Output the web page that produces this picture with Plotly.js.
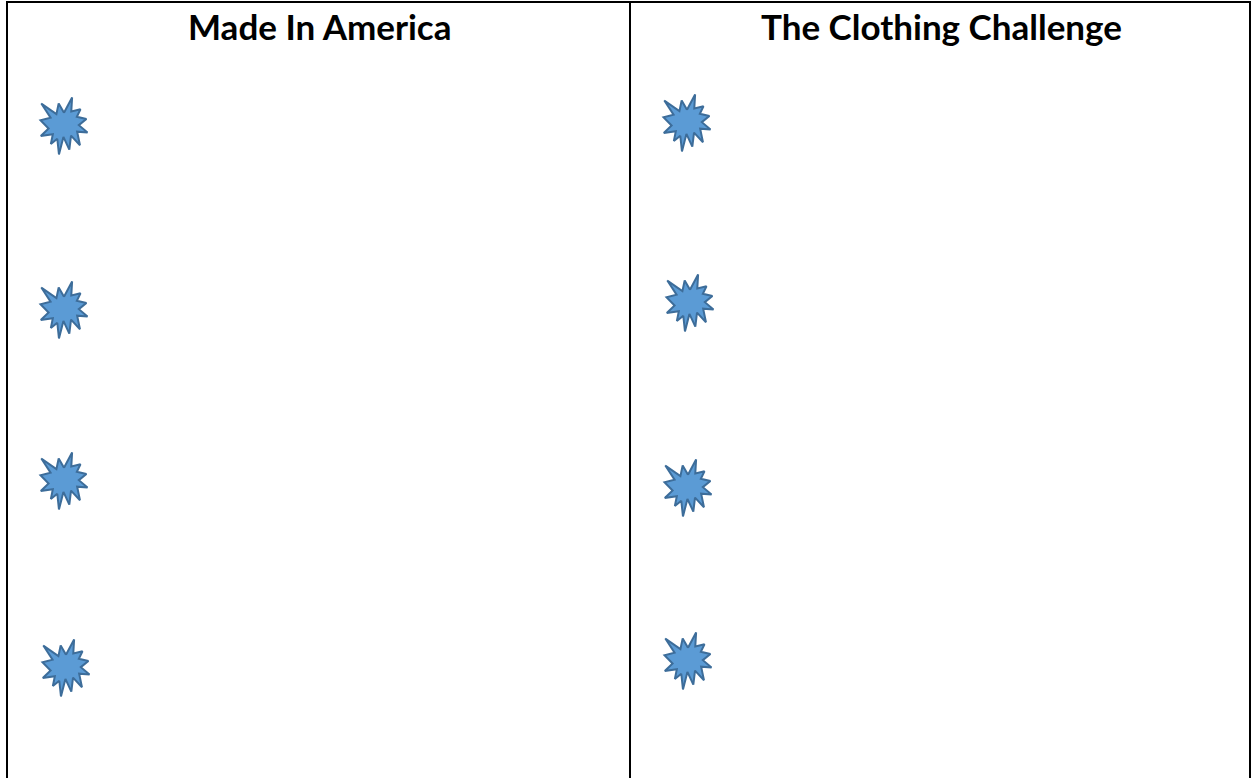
<!DOCTYPE html>
<html>
<head>
<meta charset="utf-8">
<script src="https://cdn.plot.ly/plotly-3.0.1.min.js"></script>
<style>html,body{margin:0;padding:0;background:#fff;}#chart{width:1254px;height:778px;}</style>
</head>
<body>
<div id="chart"></div>
<script>
// Data
const columnTitles = ["Made In America", "The Clothing Challenge"];
const leftBulletX = [64, 64, 64, 66];
const leftBulletY = [126, 310, 481, 668];
const rightBulletX = [687, 690, 688, 688];
const rightBulletY = [123, 303, 488, 661];

// Word "Explosion 1" (irregularSeal1) outline, 21600 units
const sealPts = [[10800,5800],[14522,0],[14155,5325],[18380,4457],[16702,7315],[21097,8137],[17607,10475],[21600,13290],[16837,12942],[18145,18095],[14020,14457],[13247,19737],[10532,14935],[8485,21600],[7715,15627],[4762,17617],[5667,13937],[135,14587],[3722,11775],[0,8615],[4627,7617],[370,2295],[7312,6320],[8352,2295],[10800,5800]];
const starW = 47, starH = 57;

function starTrace(cx, cy) {
  const xs = [], ys = [];
  sealPts.forEach(p => {
    xs.push(cx - starW/2 + p[0]/21600*starW);
    ys.push(cy - starH/2 + p[1]/21600*starH);
  });
  return {x: xs, y: ys, type: 'scatter', mode: 'lines', fill: 'toself',
    fillcolor: '#5b9bd5', line: {color: '#3d6d9a', width: 2}, hoverinfo: 'skip', showlegend: false};
}

const traces = [];
leftBulletX.forEach((x, i) => traces.push(starTrace(x, leftBulletY[i])));
rightBulletX.forEach((x, i) => traces.push(starTrace(x, rightBulletY[i])));

const W = 1254, H = 778;
const leftEdge = 7, midEdge = 630, rightEdge = 1250, topEdge = 2;
const lineStyle = {color: '#000', width: 2};
const shapes = [
  {type: 'line', xref: 'x', yref: 'y', x0: leftEdge - 1, x1: rightEdge + 1, y0: topEdge, y1: topEdge, line: lineStyle},
  {type: 'line', xref: 'x', yref: 'y', x0: leftEdge, x1: leftEdge, y0: topEdge, y1: H, line: lineStyle},
  {type: 'line', xref: 'x', yref: 'y', x0: midEdge, x1: midEdge, y0: topEdge, y1: H, line: lineStyle},
  {type: 'line', xref: 'x', yref: 'y', x0: rightEdge, x1: rightEdge, y0: topEdge, y1: H, line: lineStyle}
];

const titleFont = {family: 'Lato, "Open Sans", sans-serif', size: 35, color: '#000', weight: 'bold'};
const annotations = [
  {text: '<b>' + columnTitles[0] + '</b>', x: 319, y: 26, xref: 'x', yref: 'y', showarrow: false, xanchor: 'center', yanchor: 'middle', font: titleFont},
  {text: '<b>' + columnTitles[1] + '</b>', x: 941, y: 26, xref: 'x', yref: 'y', showarrow: false, xanchor: 'center', yanchor: 'middle', font: titleFont}
];

const layout = {
  width: W, height: H,
  margin: {l: 0, r: 0, t: 0, b: 0, pad: 0},
  paper_bgcolor: '#fff', plot_bgcolor: '#fff',
  xaxis: {range: [0, W], visible: false, fixedrange: true},
  yaxis: {range: [H, 0], visible: false, fixedrange: true},
  shapes: shapes,
  annotations: annotations,
  showlegend: false
};

Plotly.newPlot('chart', traces, layout, {staticPlot: true, displayModeBar: false});
</script>
</body>
</html>
